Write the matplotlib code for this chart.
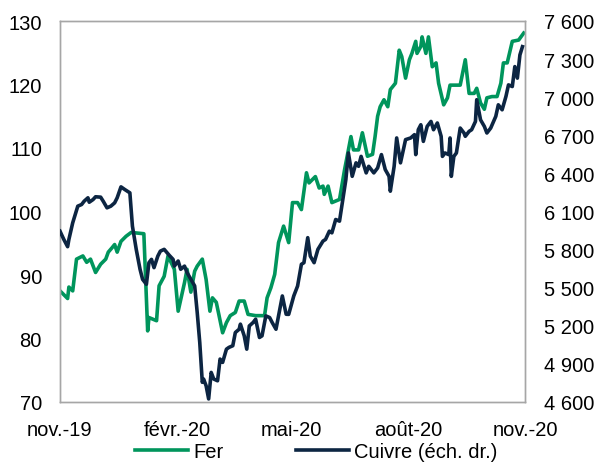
import matplotlib
matplotlib.use("Agg")
import matplotlib.pyplot as plt
import matplotlib.ticker as mticker
import pandas as pd

plt.rcParams['font.family'] = ['Liberation Sans', 'DejaVu Sans']

# ---- Data ----
fer_dates = [
    "2019-11-01", "2019-11-07", "2019-11-08", "2019-11-11", "2019-11-14", "2019-11-19",
    "2019-11-22", "2019-11-25", "2019-11-29", "2019-12-03", "2019-12-07", "2019-12-09",
    "2019-12-12", "2019-12-14", "2019-12-16", "2019-12-19", "2019-12-23", "2019-12-27",
    "2020-01-06", "2020-01-09", "2020-01-10", "2020-01-16", "2020-01-18", "2020-01-22",
    "2020-01-25", "2020-01-30", "2020-02-02", "2020-02-07", "2020-02-09", "2020-02-12",
    "2020-02-15", "2020-02-17", "2020-02-21", "2020-02-24", "2020-02-27", "2020-02-29",
    "2020-03-03", "2020-03-05", "2020-03-08", "2020-03-11", "2020-03-14", "2020-03-18",
    "2020-03-21", "2020-03-25", "2020-03-28", "2020-04-03", "2020-04-10", "2020-04-12",
    "2020-04-15", "2020-04-18", "2020-04-21", "2020-04-25", "2020-04-29", "2020-05-02",
    "2020-05-06", "2020-05-09", "2020-05-13", "2020-05-15", "2020-05-20", "2020-05-23",
    "2020-05-26", "2020-05-27", "2020-05-30", "2020-06-02", "2020-06-08", "2020-06-12",
    "2020-06-15", "2020-06-17", "2020-06-19", "2020-06-23", "2020-06-26", "2020-06-30",
    "2020-07-04", "2020-07-06", "2020-07-08", "2020-07-10", "2020-07-13", "2020-07-16",
    "2020-07-18", "2020-07-22", "2020-07-25", "2020-07-27", "2020-07-30", "2020-08-02",
    "2020-08-04", "2020-08-07", "2020-08-08", "2020-08-11", "2020-08-12", "2020-08-15",
    "2020-08-17", "2020-08-20", "2020-08-23", "2020-08-25", "2020-08-29", "2020-09-01",
    "2020-09-03", "2020-09-07", "2020-09-11", "2020-09-15", "2020-09-18", "2020-09-22",
    "2020-09-24", "2020-09-27", "2020-09-30", "2020-10-02", "2020-10-06", "2020-10-10",
    "2020-10-13", "2020-10-15", "2020-10-18", "2020-10-22", "2020-10-27", "2020-10-31",
]
fer_values = [
    87.5, 86.3, 88.1, 87.5, 92.5, 93.0,
    92.0, 92.5, 90.4, 91.7, 92.5, 93.6,
    94.3, 94.8, 93.6, 95.3, 96.1, 96.7,
    96.5, 81.2, 83.3, 82.8, 88.3, 89.8,
    93.0, 90.9, 84.3, 88.8, 90.9, 87.3,
    90.6, 91.4, 92.5, 89.3, 84.3, 86.4,
    85.7, 83.8, 80.9, 82.5, 83.6, 84.1,
    85.9, 85.9, 83.8, 83.6, 83.6, 86.4,
    88.0, 90.1, 95.1, 97.7, 95.1, 101.4,
    101.4, 100.3, 106.1, 104.5, 105.5, 103.7,
    104.0, 102.7, 104.0, 101.4, 101.9, 106.6,
    109.7, 111.8, 109.7, 109.7, 112.4, 108.7,
    109.0, 111.8, 115.0, 116.5, 117.6, 116.5,
    119.2, 120.2, 125.4, 124.4, 121.0, 123.9,
    124.9, 126.8, 124.9, 126.0, 127.5, 124.9,
    127.5, 122.8, 123.4, 120.2, 116.8, 117.9,
    119.9, 119.9, 119.9, 123.9, 118.6, 118.6,
    119.4, 117.1, 116.1, 117.9, 118.1, 118.1,
    120.2, 123.4, 123.4, 126.8, 127.0, 128.1,
]

cuivre_dates = [
    "2019-11-01", "2019-11-04", "2019-11-07", "2019-11-08", "2019-11-11", "2019-11-15",
    "2019-11-18", "2019-11-20", "2019-11-23", "2019-11-24", "2019-11-27", "2019-11-29",
    "2019-12-03", "2019-12-05", "2019-12-08", "2019-12-11", "2019-12-14", "2019-12-16",
    "2019-12-19", "2019-12-22", "2019-12-26", "2019-12-28", "2019-12-31", "2020-01-03",
    "2020-01-05", "2020-01-08", "2020-01-10", "2020-01-12", "2020-01-14", "2020-01-17",
    "2020-01-19", "2020-01-22", "2020-01-26", "2020-01-29", "2020-01-30", "2020-02-02",
    "2020-02-04", "2020-02-07", "2020-02-09", "2020-02-12", "2020-02-15", "2020-02-17",
    "2020-02-19", "2020-02-21", "2020-02-22", "2020-02-24", "2020-02-26", "2020-02-28",
    "2020-03-01", "2020-03-04", "2020-03-06", "2020-03-08", "2020-03-11", "2020-03-13",
    "2020-03-16", "2020-03-18", "2020-03-21", "2020-03-22", "2020-03-25", "2020-03-27",
    "2020-03-29", "2020-04-01", "2020-04-03", "2020-04-06", "2020-04-08", "2020-04-11",
    "2020-04-14", "2020-04-16", "2020-04-19", "2020-04-21", "2020-04-24", "2020-04-27",
    "2020-04-29", "2020-05-03", "2020-05-06", "2020-05-09", "2020-05-11", "2020-05-14",
    "2020-05-16", "2020-05-19", "2020-05-22", "2020-05-26", "2020-05-28", "2020-05-31",
    "2020-06-02", "2020-06-05", "2020-06-08", "2020-06-10", "2020-06-13", "2020-06-15",
    "2020-06-18", "2020-06-21", "2020-06-23", "2020-06-25", "2020-06-29", "2020-07-01",
    "2020-07-05", "2020-07-08", "2020-07-11", "2020-07-14", "2020-07-17", "2020-07-18",
    "2020-07-21", "2020-07-23", "2020-07-26", "2020-07-30", "2020-08-03", "2020-08-06",
    "2020-08-07", "2020-08-09", "2020-08-11", "2020-08-13", "2020-08-16", "2020-08-19",
    "2020-08-21", "2020-08-24", "2020-08-27", "2020-08-28", "2020-08-30", "2020-09-02",
    "2020-09-03", "2020-09-04", "2020-09-06", "2020-09-08", "2020-09-11", "2020-09-14",
    "2020-09-15", "2020-09-18", "2020-09-20", "2020-09-23", "2020-09-24", "2020-09-27",
    "2020-09-30", "2020-10-02", "2020-10-05", "2020-10-09", "2020-10-11", "2020-10-14",
    "2020-10-17", "2020-10-19", "2020-10-22", "2020-10-24", "2020-10-26", "2020-10-28",
    "2020-10-30",
]
cuivre_values = [
    5945, 5880, 5823, 5880, 6011, 6142,
    6155, 6181, 6208, 6173, 6194, 6216,
    6213, 6181, 6129, 6142, 6168, 6208,
    6294, 6273, 6247, 5985, 5802, 5645,
    5566, 5527, 5697, 5723, 5658, 5749,
    5788, 5802, 5755, 5723, 5670, 5710,
    5645, 5670, 5619, 5566, 5514, 5305,
    5069, 4755, 4781, 4728, 4624, 4833,
    4781, 4767, 4938, 4912, 5016, 5030,
    5043, 5147, 5173, 5213, 5121, 5016,
    5199, 5226, 5252, 5108, 5121, 5278,
    5265, 5226, 5173, 5278, 5435, 5291,
    5290, 5435, 5513, 5684, 5697, 5894,
    5749, 5697, 5802, 5867, 5880, 5945,
    5932, 6037, 6024, 6155, 6351, 6561,
    6377, 6483, 6456, 6534, 6404, 6456,
    6404, 6443, 6548, 6430, 6377, 6260,
    6456, 6679, 6483, 6666, 6679, 6705,
    6548, 6744, 6783, 6652, 6770, 6809,
    6744, 6797, 6692, 6534, 6561, 6548,
    6679, 6377, 6534, 6561, 6757, 6718,
    6692, 6731, 6744, 6809, 6980, 6822,
    6770, 6718, 6757, 6849, 6940, 6901,
    7006, 7097, 7084, 7241, 7150, 7333,
    7398,
]

x_tick_dates = ["2019-11-01", "2020-02-01", "2020-05-01", "2020-08-01", "2020-11-01"]
x_tick_labels = ["nov.-19", "févr.-20", "mai-20", "août-20", "nov.-20"]
left_ticks = [70, 80, 90, 100, 110, 120, 130]
right_ticks = [4600, 4900, 5200, 5500, 5800, 6100, 6400, 6700, 7000, 7300, 7600]
series_labels = ["Fer", "Cuivre (éch. dr.)"]

GREEN = "#00955C"
NAVY = "#0C2542"
FS = 14.5

fig = plt.figure(figsize=(5.99, 4.64), dpi=100)
ax = fig.add_axes([60/599, 1-403/464, (525-60)/599, (403-22)/464])
ax2 = ax.twinx()

fd = pd.to_datetime(fer_dates)
cd = pd.to_datetime(cuivre_dates)

l1, = ax.plot(fd, fer_values, color=GREEN, lw=2.6, zorder=2)
l2, = ax2.plot(cd, cuivre_values, color=NAVY, lw=2.6, zorder=3)

ax.set_xlim(pd.Timestamp("2019-11-01"), pd.Timestamp("2020-11-01"))
ax.set_ylim(70, 130)
ax2.set_ylim(4600, 7600)
ax.set_yticks(left_ticks)
ax2.set_yticks(right_ticks)
ax2.yaxis.set_major_formatter(mticker.FuncFormatter(lambda v, p: f"{int(v):,}".replace(",", " ")))
ax.set_xticks(pd.to_datetime(x_tick_dates))
ax.set_xticklabels(x_tick_labels)

for a in (ax, ax2):
    a.tick_params(length=0, labelsize=FS, colors="black")
    for s in a.spines.values():
        s.set_color("#A6A6A6")
        s.set_linewidth(1.0)
ax.tick_params(axis="y", pad=13)
ax2.tick_params(axis="y", pad=14)
ax.tick_params(axis="x", pad=13)

fig.legend([l1, l2], series_labels, loc="center", ncol=2,
           bbox_to_anchor=(0.528, 1-453/464), frameon=False, fontsize=FS,
           handlelength=2.65, handletextpad=0.25, columnspacing=3.6,
           borderpad=0, borderaxespad=0)

fig.savefig("out.png", dpi=100)
